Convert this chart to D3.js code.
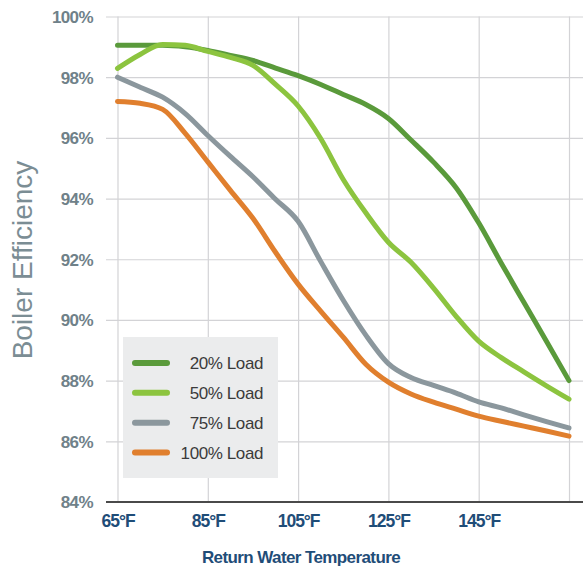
<!DOCTYPE html>
<html>
<head>
<meta charset="utf-8">
<script src="https://cdn.jsdelivr.net/npm/d3@7"></script>
<style>
  html, body { margin: 0; padding: 0; background: #ffffff; }
  svg { display: block; }
</style>
</head>
<body>
<svg id="chart" width="583" height="568"></svg>
<script>
// ---- data ----
const temps = [65, 70, 75, 80, 85, 90, 95, 100, 105, 110, 115, 120, 125, 130, 135, 140, 145, 150, 155, 160, 165];
const load20 = [99.05, 99.05, 99.05, 99.0, 98.88, 98.72, 98.55, 98.3, 98.05, 97.76, 97.43, 97.1, 96.64, 95.93, 95.2, 94.36, 93.2, 91.87, 90.58, 89.3, 88.0];
const load50 = [98.29, 98.75, 99.08, 99.05, 98.85, 98.65, 98.39, 97.76, 97.05, 95.98, 94.63, 93.53, 92.56, 91.9, 91.05, 90.12, 89.3, 88.76, 88.29, 87.83, 87.39];
const load75 = [98.0, 97.67, 97.34, 96.8, 96.08, 95.39, 94.72, 93.98, 93.25, 91.93, 90.65, 89.5, 88.56, 88.1, 87.84, 87.59, 87.3, 87.1, 86.87, 86.65, 86.44];
const load100 = [97.2, 97.14, 96.94, 96.15, 95.21, 94.27, 93.35, 92.23, 91.18, 90.29, 89.43, 88.54, 87.95, 87.56, 87.29, 87.06, 86.83, 86.66, 86.5, 86.34, 86.17];
const seriesNames = ["20% Load", "50% Load", "75% Load", "100% Load"];
const seriesColors = ["#5a9a3b", "#8cc43f", "#8b979d", "#e07f2e"];
const xTickValues = [65, 85, 105, 125, 145, 165];
const xTickLabels = ["65°F", "85°F", "105°F", "125°F", "145°F", ""];
const yTickValues = [84, 86, 88, 90, 92, 94, 96, 98, 100];
const yTickLabels = ["84%", "86%", "88%", "90%", "92%", "94%", "96%", "98%", "100%"];
const xTitle = "Return Water Temperature";
const yTitle = "Boiler Efficiency";

// ---- layout ----
const svg = d3.select("#chart");
const plotLeft = 106, plotRight = 583, plotTop = 16.5, plotBottom = 502;

const x = d3.scaleLinear().domain([65, 165]).range([117.5, 569]);
const y = d3.scaleLinear().domain([84, 100]).range([plotBottom, plotTop]);

const gridColor = "#d3d3d6";

// horizontal gridlines + y labels
const yAxis = d3.axisLeft(y)
  .tickValues(yTickValues)
  .tickSize(-(plotRight - plotLeft))
  .tickPadding(13)
  .tickFormat((d, i) => yTickLabels[i]);
const gy = svg.append("g").attr("transform", `translate(${plotLeft},0)`).call(yAxis);
gy.select(".domain").remove();
gy.selectAll(".tick line").attr("stroke", gridColor).attr("stroke-width", 1.2);
gy.selectAll(".tick text")
  .attr("fill", "#6f8189")
  .attr("font-family", "'Liberation Sans', Arial, sans-serif")
  .attr("font-weight", "bold")
  .attr("font-size", 17)
  .attr("letter-spacing", -0.6)
  .attr("dy", "0.35em");

// vertical gridlines + x labels
const xAxis = d3.axisBottom(x)
  .tickValues(xTickValues)
  .tickSize(-(plotBottom - plotTop))
  .tickPadding(13)
  .tickFormat((d, i) => xTickLabels[i]);
const gx = svg.append("g").attr("transform", `translate(0,${plotBottom})`).call(xAxis);
gx.select(".domain").remove();
gx.selectAll(".tick line").attr("stroke", gridColor).attr("stroke-width", 1.2);
gx.selectAll(".tick text")
  .attr("fill", "#1f4d78")
  .attr("font-family", "'Liberation Sans', Arial, sans-serif")
  .attr("font-weight", "bold")
  .attr("font-size", 17.5)
  .attr("letter-spacing", -1);

// baseline
svg.append("line")
  .attr("x1", plotLeft).attr("x2", plotRight)
  .attr("y1", plotBottom).attr("y2", plotBottom)
  .attr("stroke", "#4a4a4a").attr("stroke-width", 2.2);

// axis titles
svg.append("text")
  .attr("x", 301).attr("y", 563)
  .attr("text-anchor", "middle")
  .attr("fill", "#1f4d78")
  .attr("font-family", "'Liberation Sans', Arial, sans-serif")
  .attr("font-weight", "bold")
  .attr("font-size", 17)
  .attr("letter-spacing", -0.6)
  .text(xTitle);

svg.append("text")
  .attr("transform", "translate(32,260) rotate(-90)")
  .attr("text-anchor", "middle")
  .attr("fill", "#7b8d94")
  .attr("font-family", "'Liberation Sans', Arial, sans-serif")
  .attr("font-size", 28)
  .text(yTitle);

// lines
const allSeries = [load20, load50, load75, load100];
const line = d3.line()
  .x((d, i) => x(temps[i]))
  .y(d => y(d))
  .curve(d3.curveMonotoneX);

allSeries.forEach((vals, k) => {
  svg.append("path")
    .datum(vals)
    .attr("d", line)
    .attr("fill", "none")
    .attr("stroke", seriesColors[k])
    .attr("stroke-width", 5)
    .attr("stroke-linecap", "round")
    .attr("stroke-linejoin", "round");
});

// legend
const lg = svg.append("g");
lg.append("rect")
  .attr("x", 123).attr("y", 337)
  .attr("width", 155).attr("height", 141)
  .attr("fill", "#ebeced");
const legendY = d3.scalePoint().domain(seriesNames).range([363, 452.5]);
seriesNames.forEach((name, k) => {
  const cy = legendY(name);
  lg.append("line")
    .attr("x1", 135).attr("x2", 167)
    .attr("y1", cy).attr("y2", cy)
    .attr("stroke", seriesColors[k])
    .attr("stroke-width", 6)
    .attr("stroke-linecap", "round");
  lg.append("text")
    .attr("x", 263).attr("y", cy)
    .attr("dy", "0.36em")
    .attr("text-anchor", "end")
    .attr("fill", "#3b3b3b")
    .attr("font-family", "'Liberation Sans', Arial, sans-serif")
    .attr("font-size", 17)
    .attr("letter-spacing", -0.4)
    .text(name);
});
</script>
</body>
</html>
